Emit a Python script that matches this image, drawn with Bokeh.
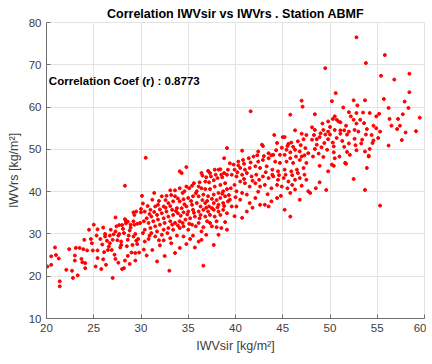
from bokeh.plotting import figure
from bokeh.models import Label, Range1d, FixedTicker
from bokeh.embed import file_html
from bokeh.resources import INLINE

# (IWVsir, IWVrs) pairs, kg/m2
samples = [
    # X 20-30
    (20.1,22.3),(20.5,24.7),(20.5,22.7),(20.9,26.8),(21.0,25.0),(21.3,24.2),(21.4,18.8),(21.4,17.6),
    (22.1,21.5),(22.7,21.3),(22.8,19.6),(23.0,24.9),(23.0,23.7),(23.1,26.7),(23.3,20.2),(23.5,26.7),
    (23.7,24.1),(23.8,23.3),(23.9,26.4),(24.1,23.1),(24.1,21.9),(24.3,26.1),(24.5,31.0),(24.7,28.8),
    (24.8,27.8),(24.9,26.1),(25.0,32.2),(25.2,22.3),(25.4,31.1),(25.4,26.1),(25.4,24.3),(25.7,28.8),
    (25.8,21.7),(25.9,27.5),(26.1,25.7),(26.2,29.4),(26.2,30.0),(26.3,22.7),(26.4,28.4),(26.5,26.2),
    (26.7,29.6),(26.7,27.8),(26.9,26.2),(27.0,28.6),(27.0,19.6),(27.1,29.9),(27.2,25.1),(27.3,33.9),
    (27.3,30.6),(27.3,24.1),(27.5,28.5),(27.6,29.6),(27.7,32.1),(27.7,30.0),(27.8,26.8),(27.9,28.2),
    (28.0,32.1),(28.0,21.7),(28.2,30.2),(28.2,21.9),(28.3,33.5),(28.3,23.7),(28.4,33.1),(28.4,32.5),
    (28.5,27.1),(28.6,32.9),(28.7,29.6),(28.8,30.8),(28.8,22.9),(28.9,32.2),(29.0,25.6),(29.1,27.4),
    (29.2,33.0),(29.2,35.1),(29.3,34.5),(29.3,32.2),(29.4,23.7),(29.4,25.5),(29.5,28.4),(29.6,32.4),
    (29.6,27.6),(29.7,28.8),(29.8,25.6),(29.9,32.6),(30.0,35.1),
    (26.0,31.5),(26.8,31.0),(27.4,31.8),(28.1,31.2),(28.9,31.5),(29.4,30.0),(26.6,27.0),(27.9,27.4),
    (28.6,28.6),(29.2,29.4),(25.3,29.6),(26.0,24.0),(27.6,23.2),(28.6,24.8),(24.0,28.6),(22.4,26.4),
    (28.3,41.4),
    # X 30-39
    (30.5,48.0),(34.1,44.8),(34.3,44.4),(34.8,45.8),(36.4,44.4),(36.5,43.8),(36.9,43.4),(37.1,44.9),
    (37.3,44.4),(37.4,43.6),(37.8,45.2),(37.9,44.0),(38.1,43.2),(38.2,45.2),(38.4,45.3),(38.5,44.0),
    (38.6,43.4),(38.8,44.4),(39.1,44.0),(39.2,45.2),(37.7,42.7),(37.2,42.2),(36.8,42.4),(36.2,42.2),
    (36.1,41.2),(35.6,42.0),(35.4,41.4),(35.1,40.8),(34.8,41.2),(34.6,40.1),(34.4,39.7),(34.1,40.8),
    (33.6,40.3),(33.1,40.3),(32.7,39.0),(33.6,38.9),(32.2,38.9),(31.4,39.7),(30.1,39.0),(35.9,40.1),
    (36.4,40.8),(36.8,40.6),(37.3,40.6),(37.8,41.2),(38.4,41.6),(38.9,42.0),(39.1,40.6),(38.7,40.1),
    (38.2,39.7),(37.7,39.3),(37.1,38.9),(36.6,39.3),(36.1,38.9),(35.5,38.9),(35.0,38.5),(34.5,38.2),
    (34.1,37.7),(33.4,37.7),(32.9,37.3),(32.4,36.5),(31.8,36.9),(31.5,36.5),(31.0,35.7),(30.4,35.3),
    (30.0,35.9),(29.5,35.3),(38.4,38.5),(38.9,38.9),(39.2,37.7),(38.7,37.3),(38.2,36.9),(37.7,37.3),
    (37.2,36.5),(36.8,37.3),(36.3,36.5),(35.9,37.3),(35.4,36.9),(34.8,36.5),(34.3,36.1),(33.8,36.1),
    (33.3,35.7),(32.7,35.3),(32.2,34.9),(31.7,34.5),(31.1,34.1),(30.6,33.7),(30.3,33.0),(30.8,32.6),
    (31.3,33.0),(31.8,33.4),(32.4,33.7),(32.9,34.1),(33.4,34.5),(33.9,34.9),(34.5,35.1),(35.0,35.3),
    (35.5,35.7),(36.1,35.3),(36.6,35.7),(37.1,35.3),(37.7,35.7),(38.2,35.3),(38.7,35.7),(39.1,34.9),
    (38.4,34.5),(37.8,34.1),(37.3,34.5),(36.8,34.1),(36.2,33.7),(35.7,34.1),(35.2,33.7),(34.7,33.4),
    (34.1,33.0),(33.6,32.6),(33.1,33.0),(32.5,32.6),(32.0,32.2),(31.5,31.8),(31.0,31.4),(30.4,31.0),
    (31.1,30.2),(31.7,30.6),(32.4,31.0),(32.9,31.4),(33.4,31.0),(34.1,31.4),(34.5,31.8),(35.0,31.0),
    (35.4,32.2),(36.1,32.6),(37.0,33.0),(37.5,31.8),(38.0,33.0),(38.5,31.4),(36.4,30.6),(35.5,29.6),
    (34.5,29.4),(33.8,29.6),(33.1,29.0),(32.4,28.5),(31.9,28.5),(30.8,28.8),(30.4,28.2),(30.3,26.3),
    (35.2,28.8),(36.1,28.2),(36.4,28.6),(37.7,27.4),(34.1,26.7),(32.5,24.8),(31.7,23.5),(36.6,22.5),
    (39.1,31.0),(38.2,29.8),(33.0,21.3),
    (30.2,37.2),(30.7,36.6),(31.2,38.1),(31.9,37.8),(32.6,38.0),(33.2,39.2),(33.9,38.4),(34.6,37.0),
    (35.3,37.8),(35.8,39.6),(36.5,38.0),(37.0,37.8),(37.5,38.3),(38.0,38.0),(38.6,39.5),(39.3,39.2),
    (30.9,34.7),(31.4,35.2),(32.0,35.8),(32.6,36.2),(33.1,36.6),(33.7,35.4),(34.2,34.3),(34.9,34.6),
    (35.6,35.0),(36.3,34.5),(36.9,36.2),(37.5,36.1),(38.1,36.3),(38.8,36.6),(30.2,30.2),(30.9,29.6),
    (31.5,29.4),(32.2,29.8),(32.8,30.2),(33.3,32.2),(33.9,32.0),(34.4,32.6),(35.1,32.4),(35.8,31.8),
    (36.6,31.6),(37.3,32.6),(38.0,31.6),(38.9,32.8),(32.0,27.3),(33.2,27.8),(34.8,27.6),(36.9,29.8),
    (33.6,25.5),(35.7,26.8),(31.2,26.2),(30.6,24.9),
    # X 39-48
    (41.6,59.0),(45.8,58.2),(44.1,53.4),(45.0,52.9),(45.2,52.9),(46.3,54.5),(47.0,53.7),(47.5,53.4),
    (47.2,52.4),(46.6,51.9),(45.9,51.6),(45.6,51.3),(44.4,51.5),(42.8,51.1),(42.9,50.8),(40.7,49.7),
    (39.1,50.3),(42.4,49.5),(43.5,49.1),(44.0,48.7),(44.7,48.7),(45.4,49.9),(45.8,49.3),(46.3,49.9),
    (46.8,49.5),(47.4,50.3),(47.7,49.1),(47.0,48.3),(46.4,48.3),(45.8,47.9),(45.2,48.7),(41.9,48.3),
    (41.4,47.9),(40.8,47.5),(40.3,47.1),(39.8,46.4),(38.8,47.9),(39.4,46.7),(42.4,47.1),(42.9,47.5),
    (43.5,47.9),(44.2,47.1),(44.7,46.8),(45.4,47.1),(46.1,46.8),(46.8,47.5),(47.5,46.8),(47.2,45.6),
    (46.5,45.2),(45.9,44.8),(45.2,45.2),(44.5,44.8),(43.9,45.2),(43.3,46.0),(42.6,45.6),(42.1,46.0),
    (41.5,45.6),(41.0,45.2),(40.5,45.6),(39.9,45.2),(39.6,44.0),(40.1,43.6),(40.7,44.0),(41.2,44.4),
    (41.7,43.6),(42.2,44.0),(42.9,43.6),(43.5,43.2),(44.0,43.6),(44.5,42.8),(45.1,43.2),(45.6,42.4),
    (46.3,42.8),(46.8,43.2),(47.5,42.8),(47.7,40.1),(46.8,38.1),(46.3,40.5),(45.8,39.7),(45.5,40.8),
    (44.9,41.2),(44.4,41.6),(43.8,40.8),(43.1,41.6),(42.6,41.2),(42.1,42.0),(41.5,41.2),(41.0,42.0),
    (40.5,42.4),(39.9,41.6),(39.5,40.8),(40.1,40.1),(40.7,39.7),(41.2,39.3),(42.1,38.5),(42.6,36.9),
    (43.1,36.9),(43.5,36.5),(43.8,37.7),(44.4,38.5),(45.2,35.7),(41.2,35.3),(40.7,33.8),(39.9,34.2),
    (39.6,36.5),(40.1,36.5),(40.5,38.1),(41.5,37.3),(39.4,38.1),(45.8,34.1),
    (40.3,46.2),(40.9,46.6),(41.6,46.9),(42.3,48.6),(43.0,48.4),(43.8,48.6),(44.3,49.8),(44.9,50.4),
    (45.5,50.8),(46.1,50.6),(46.9,51.0),(47.3,48.6),(40.2,44.6),(40.9,43.0),(41.8,42.6),(42.5,42.8),
    (43.2,44.6),(43.9,44.0),(44.6,43.9),(45.3,44.0),(46.0,43.9),(46.6,44.4),(47.3,44.0),(42.4,40.0),
    (43.4,39.4),(44.8,39.0),(46.0,41.6),(47.0,41.4),(40.0,38.7),(41.8,36.2),
    # X 47-60
    (49.5,69.2),(53.8,70.4),(55.4,67.4),(56.8,66.5),(50.6,63.3),(50.2,61.4),(52.5,61.6),(53.7,61.6),
    (55.7,61.9),(47.0,61.5),(47.1,60.1),(51.4,59.9),(52.9,60.4),(56.2,59.8),(48.4,58.3),(52.0,58.8),
    (52.8,58.6),(53.5,58.7),(54.2,58.6),(55.2,58.4),(54.9,57.8),(52.2,57.8),(50.5,57.8),(50.3,57.2),
    (49.8,56.6),(49.2,56.1),(50.7,57.0),(50.9,56.6),(51.1,56.4),(52.5,57.0),(53.2,57.0),(53.6,56.2),
    (52.8,56.1),(54.6,55.6),(54.9,55.0),(55.3,54.2),(56.3,57.2),(56.5,55.6),(57.1,54.8),(48.1,55.2),
    (48.4,54.6),(49.3,54.6),(49.8,54.2),(50.5,54.6),(51.1,54.5),(51.5,54.5),(52.0,54.2),(52.6,54.6),
    (49.5,53.5),(50.0,53.5),(50.7,52.7),(51.1,53.7),(51.8,53.5),(52.6,52.5),(53.4,52.3),(53.8,53.5),
    (54.6,52.1),(54.2,50.1),(56.2,50.9),(48.9,52.9),(48.6,52.4),(48.1,52.3),(48.6,51.1),(49.4,51.5),
    (49.1,50.5),(48.4,50.1),(50.4,50.7),(49.7,49.9),(50.4,49.3),(51.0,48.3),(50.5,47.9),(52.1,48.7),
    (52.8,49.8),(53.7,49.5),(54.1,48.5),(51.6,46.8),(50.2,46.4),(48.9,46.1),(53.9,45.6),
    (52.8,76.5),(55.8,72.3),(58.4,67.9),(58.4,63.5),(57.9,61.3),(58.3,59.8),(57.7,58.3),(59.5,57.5),
    (59.1,54.3),(57.4,55.6),(57.2,57.2),(49.6,40.4),(48.9,42.2),(48.5,40.8),(49.8,44.8),(47.9,39.7),
    (48.2,48.3),(50.4,46.1),(51.7,46.6),(54.1,48.3),(55.3,36.7),(53.7,40.4),(52.5,43.0),(58.0,54.0),
    (54.5,51.5),(57.6,52.2),
    (48.3,53.4),(49.0,53.8),(49.8,52.4),(50.3,51.6),(51.3,52.0),(52.0,51.4),(51.5,50.6),(52.7,51.0),
    (53.3,51.4),(53.0,54.2),(53.9,54.8),(54.4,53.4),(55.1,52.7),(48.8,49.0),(49.3,48.2),(51.8,49.4),
    (50.0,55.3),(51.7,55.6),
]
iwv_sir = [s[0] for s in samples]
iwv_rs = [s[1] for s in samples]

x_ticks = [20, 25, 30, 35, 40, 45, 50, 55, 60]
y_ticks = [10, 20, 30, 40, 50, 60, 70, 80]
corr_r = 0.8773
title_text = "Correlation IWVsir vs IWVrs . Station ABMF"
x_label = "IWVsir [kg/m\u00b2]"
y_label = "IWVrs [kg/m\u00b2]"

FONT = "Liberation Sans"
AXIS_COL = "#6e6e6e"
TEXT_COL = "#404040"
GRID_COL = "#e3e3e3"

p = figure(output_backend="svg", toolbar_location=None,
           frame_width=378, frame_height=296,
           min_border_left=46, min_border_right=2, min_border_top=22, min_border_bottom=0,
           x_range=Range1d(20, 60), y_range=Range1d(10, 80),
           background_fill_color="white", border_fill_color="white")

p.scatter(iwv_sir, iwv_rs, size=3.0, color="red", line_color="red", marker="circle")

p.outline_line_color = GRID_COL

p.title.text = title_text
p.title.align = "center"
p.title.text_font = FONT
p.title.text_font_size = "12.5px"
p.title.text_font_style = "bold"
p.title.text_color = "black"
p.title.standoff = 3

p.xaxis.ticker = FixedTicker(ticks=x_ticks)
p.yaxis.ticker = FixedTicker(ticks=y_ticks)
for ax in (p.xaxis, p.yaxis):
    ax.axis_line_color = AXIS_COL
    ax.major_tick_line_color = AXIS_COL
    ax.major_tick_in = 4
    ax.major_tick_out = 0
    ax.minor_tick_line_color = None
    ax.major_label_text_font = FONT
    ax.major_label_text_font_size = "11.5px"
    ax.major_label_text_color = TEXT_COL
    ax.axis_label_text_font = FONT
    ax.axis_label_text_font_size = "12.5px"
    ax.axis_label_text_font_style = "normal"
    ax.axis_label_text_color = TEXT_COL

p.xaxis.axis_label = x_label
p.yaxis.axis_label = y_label
p.xaxis.major_label_standoff = 5
p.xaxis.axis_label_standoff = 4
p.yaxis.major_label_standoff = 5
p.yaxis.axis_label_standoff = 5

p.xgrid.grid_line_color = GRID_COL
p.ygrid.grid_line_color = GRID_COL

p.add_layout(Label(x=20.25, y=66.2, text="Correlation Coef (r) : %.4f" % corr_r,
                   text_align="left", text_baseline="middle",
                   text_font=FONT, text_font_size="11.5px", text_font_style="bold", text_color="black"))

open("out.html", "w").write(file_html(p, INLINE))
